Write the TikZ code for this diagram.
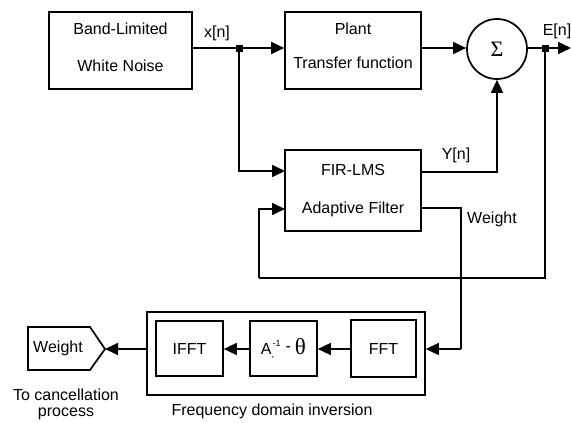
\documentclass[tikz,border=0pt]{standalone}
\usepackage{fontspec}
\setmainfont{Liberation Sans}
\newfontfamily\serif{Liberation Serif}
\usetikzlibrary{arrows.meta}
\begin{document}
\begin{tikzpicture}[x=1pt,y=-1pt,
  every node/.style={font=\fontsize{16}{19}\selectfont},
  box/.style={draw,line width=1.7pt,minimum width=#1,inner sep=0pt},
  lbl/.style={inner sep=0pt},
  wire/.style={line width=1.7pt},
  arr/.style={line width=1.7pt,-{Triangle[length=13pt,width=12pt]}},
  junc/.style={fill,minimum size=7pt,inner sep=0pt}]
\useasboundingbox (0,0) rectangle (571,423);
% main boxes
\node[box=143pt,minimum height=77pt] (noise) at (120.5,50.5) {};
\node[lbl] (noiseA) at (120.5,29) {Band-Limited};
\node[lbl] (noiseB) at (120.5,66) {White Noise};
\node[box=136pt,minimum height=77pt] (plant) at (353,50.5) {};
\node[lbl] (plantA) at (353,29) {Plant};
\node[lbl] (plantB) at (353,63) {Transfer function};
\node[draw,circle,line width=1.7pt,minimum size=60pt,inner sep=0pt] (sum) at (497,49) {\fontsize{22}{22}\selectfont\serif Σ};
\node[box=136pt,minimum height=81pt] (fir) at (353,190.5) {};
\node[lbl] (firA) at (353,170) {FIR-LMS};
\node[lbl] (firB) at (353,209) {Adaptive Filter};
% frequency domain inversion
\node[box=278pt,minimum height=83pt] (outer) at (286,353.5) {};
\node[box=67pt,minimum height=55pt] (ifft) at (189.5,348.5) {IFFT};
\node[box=67pt,minimum height=55pt] (ainv) at (283.5,348.5) {A\raisebox{-0.35ex}{\fontsize{9}{9}\selectfont ,}\kern-1.5pt\raisebox{1.0ex}{\fontsize{9}{9}\selectfont -1}\hspace{5pt}\raisebox{0.3ex}{-}\hspace{4pt}{\fontsize{23}{23}\selectfont\serif θ}};
\node[box=65pt,minimum height=57pt] (fft) at (383.5,348.5) {FFT};
% output pentagon
\draw[line width=1.7pt] (28,327) -- (90,327) -- (105,349) -- (90,370) -- (28,370) -- cycle;
\coordinate (tip) at (105,349);
\node[lbl] (wout) at (58,348) {Weight};
\node[lbl] (canc1) at (66,395) {To cancellation};
\node[lbl] (canc2) at (66,414) {process};
\node[lbl] (fdi) at (272,411) {Frequency domain inversion};
% labels
\node[lbl] (xn) at (217,33) {x[n]};
\node[lbl] (en) at (557,31) {E[n]};
\node[lbl] (yn) at (456,155) {Y[n]};
\node[lbl] (wt) at (492,219) {Weight};
% junctions and routing coordinates
\coordinate (j1) at (239,48);
\coordinate (j2) at (545,48);
\coordinate (eout) at (571,48);
\coordinate (in1) at (285,171);
\coordinate (in2) at (285,209);
\coordinate (out1) at (421,172);
\coordinate (out2) at (421,208);
\coordinate (fbcorner) at (259,278);
\coordinate (wcorner) at (461,349);
% connectors
\draw[wire] (noise.east |- j1) -- (j1);
\draw[arr] (j1) -- (plant.west |- j1);
\draw[arr] (j1) |- (in1);
\draw[arr] (plant.east |- j1) -- (sum.west |- j1);
\draw[arr] (sum.east |- j2) -- (eout);
\draw[arr] (out1) -| (sum.south);
\draw[wire] (j2) |- (fbcorner);
\draw[arr] (fbcorner) |- (in2);
\draw[wire] (out2) -| (wcorner);
\draw[arr] (wcorner) -- (outer.east |- wcorner);
\draw[arr] (fft.west |- wcorner) -- (ainv.east |- wcorner);
\draw[arr] (ainv.west |- wcorner) -- (ifft.east |- wcorner);
\draw[arr] (outer.west |- wcorner) -- (tip);
\node[junc] (jn1) at (j1) {};
\node[junc] (jn2) at (j2) {};
\end{tikzpicture}
\end{document}
